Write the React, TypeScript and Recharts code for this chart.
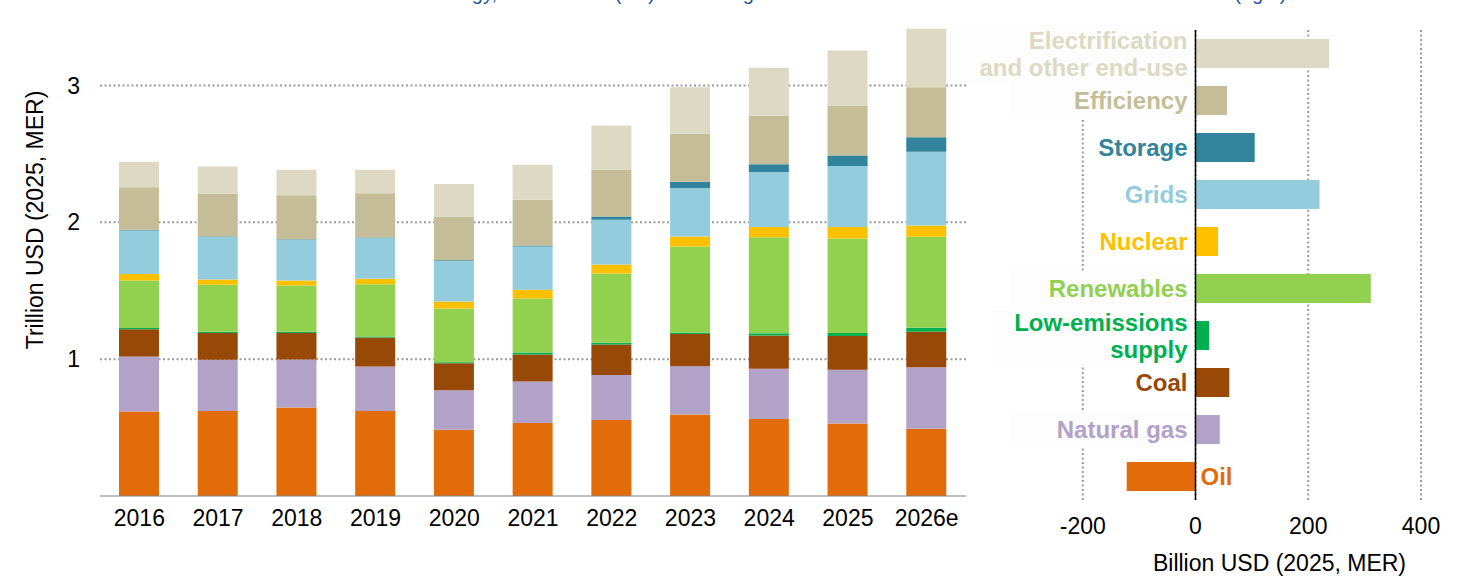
import React from 'react';
import { BarChart, Bar, XAxis, YAxis, CartesianGrid, ReferenceLine, LabelList, Cell } from 'recharts';

// ---------- Left chart data (trillion USD, 2025 MER) ----------
const years = ['2016', '2017', '2018', '2019', '2020', '2021', '2022', '2023', '2024', '2025', '2026e'];
const oil = [0.617, 0.622, 0.646, 0.622, 0.485, 0.534, 0.556, 0.595, 0.563, 0.529, 0.492];
const naturalGas = [0.402, 0.373, 0.351, 0.324, 0.288, 0.302, 0.329, 0.354, 0.366, 0.393, 0.449];
const coal = [0.2, 0.197, 0.195, 0.212, 0.198, 0.198, 0.222, 0.234, 0.244, 0.248, 0.259];
const lowEmissions = [0.008, 0.008, 0.008, 0.008, 0.007, 0.014, 0.012, 0.012, 0.017, 0.022, 0.029];
const renewables = [0.348, 0.343, 0.339, 0.382, 0.392, 0.395, 0.507, 0.629, 0.7, 0.69, 0.666];
const nuclear = [0.047, 0.039, 0.036, 0.039, 0.051, 0.064, 0.066, 0.073, 0.076, 0.084, 0.082];
const grids = [0.319, 0.31, 0.298, 0.298, 0.296, 0.317, 0.327, 0.354, 0.402, 0.446, 0.539];
const storage = [0.005, 0.004, 0.004, 0.004, 0.005, 0.007, 0.024, 0.046, 0.056, 0.077, 0.105];
const efficiency = [0.31, 0.313, 0.32, 0.323, 0.321, 0.334, 0.342, 0.351, 0.356, 0.364, 0.366];
const electrification = [0.187, 0.198, 0.188, 0.173, 0.237, 0.256, 0.322, 0.339, 0.349, 0.403, 0.427];
const yTicks = [1, 2, 3];

// ---------- Right chart data (billion USD, 2025 MER) ----------
const changeCategories = [
  'Electrification and other end-use',
  'Efficiency',
  'Storage',
  'Grids',
  'Nuclear',
  'Renewables',
  'Low-emissions supply',
  'Coal',
  'Natural gas',
  'Oil',
];
const changeLabelLines = [
  ['Electrification', 'and other end-use'],
  ['Efficiency'],
  ['Storage'],
  ['Grids'],
  ['Nuclear'],
  ['Renewables'],
  ['Low-emissions', 'supply'],
  ['Coal'],
  ['Natural gas'],
  ['Oil'],
];
const changeValues = [237, 56, 105, 220, 40, 311, 24, 60, 43, -122];
const xTicks = [-200, 0, 200, 400];

const titleText =
  'Global investment in energy, 2016-2026e (left) and change in total annual investment between 2016 and 2026e (right)';

// ---------- styles ----------
const FONT = '"Liberation Sans", Arial, Helvetica, sans-serif';
const COLORS = {
  oil: '#E36C0A',
  naturalGas: '#B3A2C7',
  coal: '#984807',
  lowEmissions: '#00B050',
  renewables: '#92D050',
  nuclear: '#FFC000',
  grids: '#93CDDD',
  storage: '#31849B',
  efficiency: '#C4BD97',
  electrification: '#DDD9C3',
};
const changeColors = [
  COLORS.electrification,
  COLORS.efficiency,
  COLORS.storage,
  COLORS.grids,
  COLORS.nuclear,
  COLORS.renewables,
  COLORS.lowEmissions,
  COLORS.coal,
  COLORS.naturalGas,
  COLORS.oil,
];
// faint background boxes behind some labels (width in px, 0 = none)
const labelBoxWidths = [244, 182, 0, 0, 0, 182, 200, 0, 182, 0];

const seriesDefs = [
  { key: 'oil', values: oil },
  { key: 'naturalGas', values: naturalGas },
  { key: 'coal', values: coal },
  { key: 'lowEmissions', values: lowEmissions },
  { key: 'renewables', values: renewables },
  { key: 'nuclear', values: nuclear },
  { key: 'grids', values: grids },
  { key: 'storage', values: storage },
  { key: 'efficiency', values: efficiency },
  { key: 'electrification', values: electrification },
];

const stackData = years.map((year, i) => {
  const row: Record<string, any> = { year };
  seriesDefs.forEach((s) => {
    row[s.key] = s.values[i];
  });
  return row;
});

const changeData = changeCategories.map((name, i) => ({ name, value: changeValues[i] }));

const gridStroke = '#9a9a9a';

const ChangeLabel = (props: any) => {
  const vb = props.viewBox || props;
  const x = Number(vb.x);
  const y = Number(vb.y);
  const w = Number(vb.width);
  const h = Number(vb.height);
  const index = props.index;
  const value = changeValues[index];
  const zeroX = value < 0 ? Math.max(x, x + w) : Math.min(x, x + w);
  const cy = y + h / 2;
  const lines = changeLabelLines[index];
  const color = changeColors[index];
  const n = lines.length;
  const lineGap = 27;
  const boxW = labelBoxWidths[index];
  const boxH = n > 1 ? 60 : 35;
  return (
    <g>
      {boxW > 0 && (
        <rect x={zeroX - 4 - boxW} y={cy - boxH / 2} width={boxW} height={boxH} fill="#fdfdfd" />
      )}
      {lines.map((line, k) => (
        <text
          key={k}
          x={value < 0 ? zeroX + 5 : zeroX - 8}
          y={cy + (k - (n - 1) / 2) * lineGap}
          textAnchor={value < 0 ? 'start' : 'end'}
          dominantBaseline="central"
          fill={color}
          fontFamily={FONT}
          fontWeight="bold"
          fontSize={24}
        >
          {line}
        </text>
      ))}
    </g>
  );
};

export default function App() {
  return (
    <div
      style={{
        position: 'absolute',
        left: 0,
        top: 0,
        width: 1474,
        height: 579,
        overflow: 'hidden',
        background: '#ffffff',
        fontFamily: FONT,
      }}
    >
      {/* Left: stacked investment by year */}
      <div style={{ position: 'absolute', left: 0, top: 0 }}>
        <BarChart
          width={970}
          height={579}
          data={stackData}
          margin={{ top: 28, right: 4, bottom: 43, left: 0 }}
          barSize={40}
        >
          <CartesianGrid
            vertical={false}
            syncWithTicks
            stroke={gridStroke}
            strokeWidth={2}
            strokeDasharray="2 2.5"
          />
          <XAxis
            dataKey="year"
            interval={0}
            height={40}
            tickLine={false}
            tickMargin={8}
            axisLine={{ stroke: '#808080', strokeWidth: 1 }}
            tick={{ fill: '#000000', fontSize: 23, fontFamily: FONT }}
          />
          <YAxis
            width={100}
            domain={[0, 3.42]}
            ticks={yTicks}
            allowDataOverflow
            axisLine={false}
            tickLine={false}
            tickMargin={14}
            tick={{ fill: '#000000', fontSize: 23, fontFamily: FONT }}
            label={{
              content: () => (
                <text
                  x={35}
                  y={220}
                  transform="rotate(-90, 35, 220)"
                  textAnchor="middle"
                  dominantBaseline="central"
                  fill="#000000"
                  fontFamily={FONT}
                  fontSize={23}
                >
                  Trillion USD (2025, MER)
                </text>
              ),
            }}
          />
          {seriesDefs.map((s) => (
            <Bar
              key={s.key}
              dataKey={s.key}
              stackId="a"
              fill={(COLORS as any)[s.key]}
              isAnimationActive={false}
            />
          ))}
        </BarChart>
      </div>

      {/* Right: change by sector */}
      <div style={{ position: 'absolute', left: 940, top: 0 }}>
        <BarChart
          width={534}
          height={579}
          data={changeData}
          layout="vertical"
          margin={{ top: 30, right: 53, bottom: 39, left: 30 }}
          barSize={29}
        >
          <CartesianGrid
            horizontal={false}
            syncWithTicks
            stroke={gridStroke}
            strokeWidth={2}
            strokeDasharray="2 2.5"
          />
          <XAxis
            type="number"
            domain={[-400, 400]}
            ticks={xTicks}
            height={40}
            axisLine={false}
            tickLine={false}
            tickMargin={12}
            tick={{ fill: '#000000', fontSize: 23, fontFamily: FONT }}
            label={{
              content: () => (
                <text
                  x={339.5}
                  y={571}
                  textAnchor="middle"
                  fill="#000000"
                  fontFamily={FONT}
                  fontSize={23}
                >
                  Billion USD (2025, MER)
                </text>
              ),
            }}
          />
          <YAxis type="category" dataKey="name" hide />
          <Bar dataKey="value" isAnimationActive={false}>
            {changeData.map((d, i) => (
              <Cell key={d.name} fill={changeColors[i]} />
            ))}
            <LabelList dataKey="value" content={ChangeLabel} />
          </Bar>
          <ReferenceLine x={0} stroke="#000000" strokeWidth={1.5} />
        </BarChart>
      </div>

      {/* Title (mostly cropped off at the top) */}
      <div
        style={{
          position: 'absolute',
          left: 245,
          top: -18.5,
          whiteSpace: 'nowrap',
          fontSize: 20,
          lineHeight: '22px',
          color: '#2B5797',
          fontFamily: FONT,
        }}
      >
        {titleText}
      </div>
    </div>
  );
}
